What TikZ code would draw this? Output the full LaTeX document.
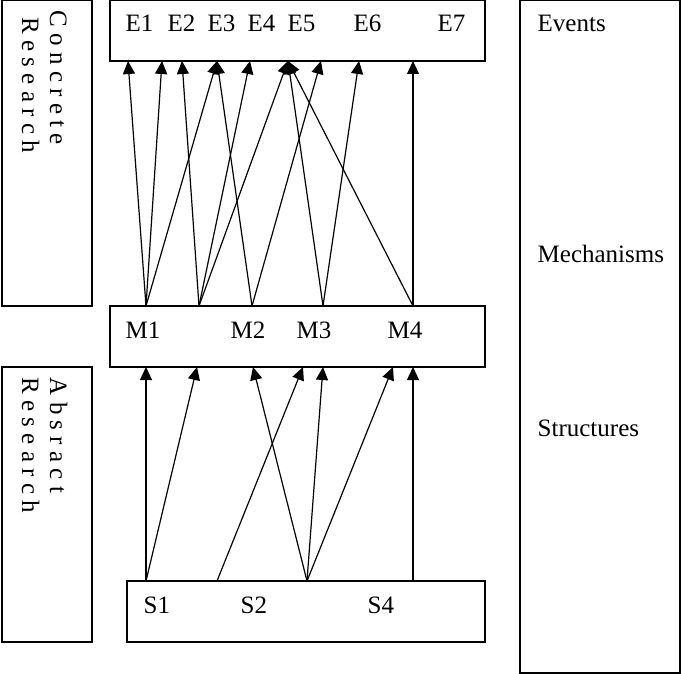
\documentclass[tikz,border=0pt]{standalone}
\usepackage{fontspec}
\setmainfont{Liberation Serif}
\usetikzlibrary{arrows.meta}

\begin{document}
\begin{tikzpicture}[x=0.5pt,y=-0.5pt,line width=0.7pt,font=\fontsize{12.5}{15}\selectfont]
    \tikzstyle{box}=[draw,rectangle,inner sep=0pt]
    \tikzstyle{lab}=[anchor=base west,inner sep=0pt]
    \tikzstyle{vlab}=[lab,rotate=-90]
    \tikzstyle{link}=[-{Triangle[length=6.5pt,width=6pt]},line width=0.6pt]

    \useasboundingbox (0,0) rectangle (681,674);

    % Draw the boxes
    \node[box,minimum width=45pt,minimum height=152.75pt] (conc) at (47,153.25) {};
    \node[box,minimum width=45pt,minimum height=137.5pt] (abst) at (47,504.5) {};
    \node[box,minimum width=187.5pt,minimum height=30.25pt] (ev) at (297.5,30.75) {};
    \node[box,minimum width=187.5pt,minimum height=30.5pt] (mech) at (297.5,336.5) {};
    \node[box,minimum width=179pt,minimum height=30.5pt] (struc) at (306,611.5) {};
    \node[box,minimum width=80pt,minimum height=336.25pt] (levels) at (600,336.75) {};

    % Research labels
    \node[vlab] (conc-1) at (50,10) {C o n c r e t e};
    \node[vlab] (conc-2) at (22,17) {R e s e a r c h};
    \node[vlab] (abst-1) at (50,377) {A b s r a c t};
    \node[vlab] (abst-2) at (22,377) {R e s e a r c h};

    % Level labels
    \node[lab] (l-ev) at (537,32) {Events};
    \node[lab] (l-mech) at (537,263) {Mechanisms};
    \node[lab] (l-struc) at (537,437) {Structures};

    % Draw the events, mechanisms and structures
    \foreach \name / \x in {E1/125,E2/167,E3/207,E4/247,E5/287,E6/353,E7/437}
        \node[lab] (\name) at (\x,32) {\name};
    \foreach \name / \x in {M1/125,M2/230,M3/296,M4/387}
        \node[lab] (\name) at (\x,338) {\name};
    \foreach \name / \x in {S1/143,S2/240,S4/367}
        \node[lab] (\name) at (\x,613) {\name};

    % Ends of the arrows on the box edges
    \foreach \i / \x in {1/128,2/162,3/182,4/217,5/250,6/288,7/321,8/359,9/413}
        \coordinate (e-\i) at (\x,61);
    \foreach \i / \x in {1/146,2/199,3/252,4/323,5/413}
        \coordinate (mt-\i) at (\x,306);
    \foreach \i / \x in {1/146,2/197,3/253,4/303,5/323,6/393,7/413}
        \coordinate (mb-\i) at (\x,367);
    \foreach \i / \x in {1/146,2/217,3/307,4/413}
        \coordinate (s-\i) at (\x,581);

    % Connect mechanisms with events
    \foreach \source / \dest in {1/1,1/2,1/4,2/3,2/5,2/6,3/4,3/7,4/6,4/8,5/6,5/9}
        \draw[link] (mt-\source) -- (e-\dest);

    % Connect structures with mechanisms
    \foreach \source / \dest in {1/1,1/2,2/4,3/3,3/5,3/6,4/7}
        \draw[link] (s-\source) -- (mb-\dest);
\end{tikzpicture}
\end{document}
